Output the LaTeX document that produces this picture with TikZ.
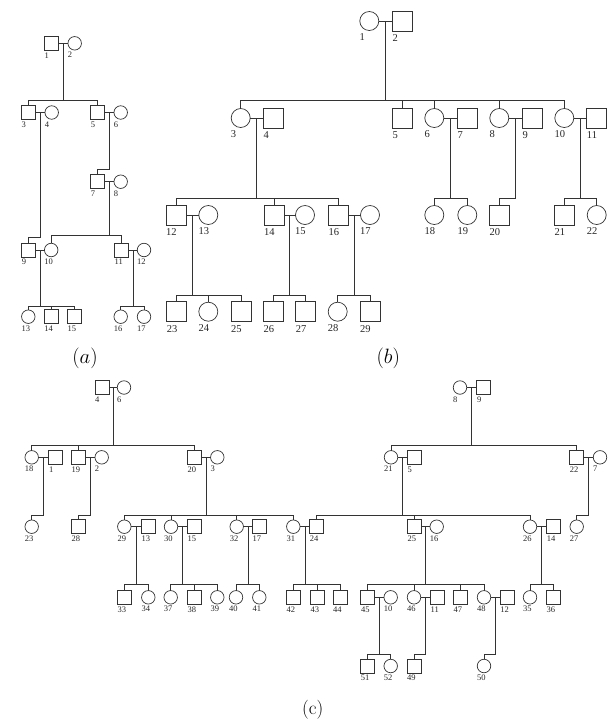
\documentclass[tikz,border=0pt]{standalone}
\usepackage{fontspec}
\newfontfamily\tms{Liberation Serif}
\usetikzlibrary{calc}
\tikzset{
  ln/.style={draw=black!80, line width=0.7pt},
  shp/.style={draw=black!80, line width=0.7pt, inner sep=0pt, outer sep=0pt},
  sqa/.style={shp, rectangle, minimum size=14pt},
  cia/.style={shp, circle, minimum size=13.5pt},
  sqb/.style={shp, rectangle, minimum size=20pt},
  cib/.style={shp, circle, minimum size=19pt},
  labtxa/.style={font=\tms\fontsize{8.5}{9}\selectfont, anchor=north west, inner sep=0pt, xshift=-7pt, yshift=-2pt, text=black!85},
  labtxb/.style={font=\tms\fontsize{10.5}{11}\selectfont, anchor=north west, inner sep=0pt, xshift=-10pt, yshift=-3.3pt, text=black!85},
  la/.style={label={[labtxa]below:#1}},
  lb/.style={label={[labtxb]below:#1}},
  paneltitle/.style={font=\fontsize{20}{24}\selectfont, inner sep=0pt},
}
\newcommand\cpl[3]{\draw[ln] (#1) -- (#2); \coordinate (#3) at ($(#1.east)!.5!(#2.west)$);}
\begin{document}
\begin{tikzpicture}[x=1pt,y=-1pt]
\useasboundingbox (0,0) rectangle (608,724);
% ---------------- panel (a)
\node[sqa,la=1] (a1) at (51.5,43.3) {};
\node[cia,la=2] (a2) at (74.7,43.3) {};
\node[sqa,la=3] (a3) at (28.5,112.5) {};
\node[cia,la=4] (a4) at (51.7,112.5) {};
\node[sqa,la=5] (a5) at (97.7,112.5) {};
\node[cia,la=6] (a6) at (120.7,112.5) {};
\node[sqa,la=7] (a7) at (97.7,181.7) {};
\node[cia,la=8] (a8) at (120.7,181.7) {};
\node[sqa,la=9] (a9) at (28.7,250) {};
\node[cia,la=10] (a10) at (51.2,250) {};
\node[sqa,la=11] (a11) at (121.5,250) {};
\node[cia,la=12] (a12) at (144,250) {};
\node[cia,la=13] (a13) at (28.3,316.7) {};
\node[sqa,la=14] (a14) at (51.3,316.7) {};
\node[sqa,la=15] (a15) at (74.5,316.7) {};
\node[cia,la=16] (a16) at (120.7,316.7) {};
\node[cia,la=17] (a17) at (144,316.7) {};
\coordinate (ya1) at (0,100);
\coordinate (ya2) at (0,237.3);
\coordinate (ya3) at (0,169.3);
\coordinate (ya4) at (0,235);
\coordinate (ya5) at (0,306);
\cpl{a1}{a2}{ma1}
\cpl{a3}{a4}{ma2}
\cpl{a5}{a6}{ma3}
\cpl{a7}{a8}{ma4}
\cpl{a9}{a10}{ma5}
\cpl{a11}{a12}{ma6}
\draw[ln] (ma1) -- (ma1 |- ya1);
\draw[ln] (a3.north) |- (a5.north |- ya1) -- (a5.north);
\draw[ln] (ma2) |- (a9.north |- ya2) -- (a9.north);
\draw[ln] (ma3) |- (a7.north |- ya3) -- (a7.north);
\draw[ln] (ma4) -- (ma4 |- ya4);
\draw[ln] (a10.north) |- (a11.north |- ya4) -- (a11.north);
\draw[ln] (ma5) -- (ma5 |- ya5);
\draw[ln] (a13.north) |- (a15.north |- ya5) -- (a15.north);
\draw[ln] (a14.north) -- (a14.north |- ya5);
\draw[ln] (ma6) -- (ma6 |- ya5);
\draw[ln] (a16.north) |- (a17.north |- ya5) -- (a17.north);
\node[paneltitle] (ta) at (85,358) {$(a)$};
% ---------------- panel (b)
\node[cib,lb=1] (b1) at (369.3,21) {};
\node[sqb,lb=2] (b2) at (402.3,21) {};
\node[cib,lb=3] (b3) at (240.7,118) {};
\node[sqb,lb=4] (b4) at (273.3,118) {};
\node[sqb,lb=5] (b5) at (402.3,118) {};
\node[cib,lb=6] (b6) at (434.3,118) {};
\node[sqb,lb=7] (b7) at (467.3,118) {};
\node[cib,lb=8] (b8) at (499.3,118) {};
\node[sqb,lb=9] (b9) at (532.3,118) {};
\node[cib,lb=10] (b10) at (564.3,118) {};
\node[sqb,lb=11] (b11) at (596.7,118) {};
\node[sqb,lb=12] (b12) at (176,215) {};
\node[cib,lb=13] (b13) at (208.3,215) {};
\node[sqb,lb=14] (b14) at (274,215) {};
\node[cib,lb=15] (b15) at (305,215) {};
\node[sqb,lb=16] (b16) at (338.3,215) {};
\node[cib,lb=17] (b17) at (370,215) {};
\node[cib,lb=18] (b18) at (434.3,215) {};
\node[cib,lb=19] (b19) at (467.3,215) {};
\node[sqb,lb=20] (b20) at (499.3,215) {};
\node[sqb,lb=21] (b21) at (564.3,215) {};
\node[cib,lb=22] (b22) at (596.7,215) {};
\node[sqb,lb=23] (b23) at (176.7,311.7) {};
\node[cib,lb=24] (b24) at (208.3,311.7) {};
\node[sqb,lb=25] (b25) at (241,311.7) {};
\node[sqb,lb=26] (b26) at (273.3,311.7) {};
\node[sqb,lb=27] (b27) at (305.7,311.7) {};
\node[cib,lb=28] (b28) at (337.7,311.7) {};
\node[sqb,lb=29] (b29) at (370,311.7) {};
\coordinate (yb1) at (0,100.7);
\coordinate (yb2) at (0,198.3);
\coordinate (yb3) at (0,295);
\cpl{b1}{b2}{mb1}
\cpl{b3}{b4}{mb2}
\cpl{b6}{b7}{mb3}
\cpl{b8}{b9}{mb4}
\cpl{b10}{b11}{mb5}
\cpl{b12}{b13}{mb6}
\cpl{b14}{b15}{mb7}
\cpl{b16}{b17}{mb8}
\draw[ln] (mb1) -- (mb1 |- yb1);
\draw[ln] (b3.north) |- (b10.north |- yb1) -- (b10.north);
\draw[ln] (b5.north) -- (b5.north |- yb1);
\draw[ln] (b6.north) -- (b6.north |- yb1);
\draw[ln] (b8.north) -- (b8.north |- yb1);
\draw[ln] (mb2) -- (mb2 |- yb2);
\draw[ln] (b12.north) |- (b16.north |- yb2) -- (b16.north);
\draw[ln] (b14.north) -- (b14.north |- yb2);
\draw[ln] (mb3) -- (mb3 |- yb2);
\draw[ln] (b18.north) |- (b19.north |- yb2) -- (b19.north);
\draw[ln] (mb4) |- (b20.north |- yb2) -- (b20.north);
\draw[ln] (mb5) -- (mb5 |- yb2);
\draw[ln] (b21.north) |- (b22.north |- yb2) -- (b22.north);
\draw[ln] (mb6) -- (mb6 |- yb3);
\draw[ln] (b23.north) |- (b25.north |- yb3) -- (b25.north);
\draw[ln] (b24.north) -- (b24.north |- yb3);
\draw[ln] (mb7) -- (mb7 |- yb3);
\draw[ln] (b26.north) |- (b27.north |- yb3) -- (b27.north);
\draw[ln] (mb8) -- (mb8 |- yb3);
\draw[ln] (b28.north) |- (b29.north |- yb3) -- (b29.north);
\node[paneltitle] (tb) at (388.3,358) {$(b)$};
% ---------------- panel (c)
\node[sqa,la=4] (c4) at (102,387.5) {};
\node[cia,la=6] (c6) at (124,387.5) {};
\node[cia,la=8] (c8) at (460,387.5) {};
\node[sqa,la=9] (c9) at (483.8,387.5) {};
\node[cia,la=18] (c18) at (31.7,457.3) {};
\node[sqa,la=1] (c1) at (55.8,457.3) {};
\node[sqa,la=19] (c19) at (78.3,457.3) {};
\node[cia,la=2] (c2) at (101.7,457.3) {};
\node[sqa,la=20] (c20) at (194.5,457.3) {};
\node[cia,la=3] (c3) at (217.3,457.3) {};
\node[cia,la=21] (c21) at (391,457.3) {};
\node[sqa,la=5] (c5) at (414.3,457.3) {};
\node[sqa,la=22] (c22) at (576.7,457.3) {};
\node[cia,la=7] (c7) at (600,457.3) {};
\node[cia,la=23] (c23) at (31.7,526.7) {};
\node[sqa,la=28] (c28) at (78.3,526.7) {};
\node[cia,la=29] (c29) at (124.3,526.7) {};
\node[sqa,la=13] (c13) at (148.3,526.7) {};
\node[cia,la=30] (c30) at (171,526.7) {};
\node[sqa,la=15] (c15) at (194.5,526.7) {};
\node[cia,la=32] (c32) at (236.7,526.7) {};
\node[sqa,la=17] (c17) at (259.5,526.7) {};
\node[cia,la=31] (c31) at (293.3,526.7) {};
\node[sqa,la=24] (c24) at (316.7,526.7) {};
\node[sqa,la=25] (c25) at (414.3,526.7) {};
\node[cia,la=16] (c16) at (436.7,526.7) {};
\node[cia,la=26] (c26) at (530,526.7) {};
\node[sqa,la=14] (c14) at (553.7,526.7) {};
\node[cia,la=27] (c27) at (576.7,526.7) {};
\node[sqa,la=33] (c33) at (124.5,597.3) {};
\node[cia,la=34] (c34) at (148.3,597.3) {};
\node[cia,la=37] (c37) at (170.7,597.3) {};
\node[sqa,la=38] (c38) at (194.3,597.3) {};
\node[cia,la=39] (c39) at (217.3,597.3) {};
\node[cia,la=40] (c40) at (236,597.3) {};
\node[cia,la=41] (c41) at (259.3,597.3) {};
\node[sqa,la=42] (c42) at (293.3,597.3) {};
\node[sqa,la=43] (c43) at (317.3,597.3) {};
\node[sqa,la=44] (c44) at (340,597.3) {};
\node[sqa,la=45] (c45) at (367.8,597.3) {};
\node[cia,la=10] (c10) at (390.7,597.3) {};
\node[cia,la=46] (c46) at (414,597.3) {};
\node[sqa,la=11] (c11) at (437.5,597.3) {};
\node[sqa,la=47] (c47) at (460.5,597.3) {};
\node[cia,la=48] (c48) at (484,597.3) {};
\node[sqa,la=12] (c12) at (507.2,597.3) {};
\node[cia,la=35] (c35) at (530,597.3) {};
\node[sqa,la=36] (c36) at (553.3,597.3) {};
\node[sqa,la=51] (c51) at (367.7,666) {};
\node[cia,la=52] (c52) at (390.7,666) {};
\node[sqa,la=49] (c49) at (414,666) {};
\node[cia,la=50] (c50) at (484,666) {};
\coordinate (yc1) at (0,445);
\coordinate (yc2) at (0,515);
\coordinate (yc3) at (0,584.3);
\coordinate (yc4) at (0,654.3);
\cpl{c4}{c6}{mc1}
\cpl{c8}{c9}{mc2}
\cpl{c18}{c1}{mc3}
\cpl{c19}{c2}{mc4}
\cpl{c20}{c3}{mc5}
\cpl{c21}{c5}{mc6}
\cpl{c22}{c7}{mc7}
\cpl{c29}{c13}{mc8}
\cpl{c30}{c15}{mc9}
\cpl{c32}{c17}{mc10}
\cpl{c31}{c24}{mc11}
\cpl{c25}{c16}{mc12}
\cpl{c26}{c14}{mc13}
\cpl{c45}{c10}{mc14}
\cpl{c46}{c11}{mc15}
\cpl{c48}{c12}{mc16}
\draw[ln] (mc1) -- (mc1 |- yc1);
\draw[ln] (c18.north) |- (c20.north |- yc1) -- (c20.north);
\draw[ln] (c19.north) -- (c19.north |- yc1);
\draw[ln] (mc2) -- (mc2 |- yc1);
\draw[ln] (c21.north) |- (c22.north |- yc1) -- (c22.north);
\draw[ln] (mc3) |- (c23.north |- yc2) -- (c23.north);
\draw[ln] (mc4) |- (c28.north |- yc2) -- (c28.north);
\draw[ln] (mc5) -- (mc5 |- yc2);
\draw[ln] (c29.north) |- (c31.north |- yc2) -- (c31.north);
\draw[ln] (c30.north) -- (c30.north |- yc2);
\draw[ln] (c32.north) -- (c32.north |- yc2);
\draw[ln] (mc6) -- (mc6 |- yc2);
\draw[ln] (c24.north) |- (c26.north |- yc2) -- (c26.north);
\draw[ln] (c25.north) -- (c25.north |- yc2);
\draw[ln] (mc7) |- (c27.north |- yc2) -- (c27.north);
\draw[ln] (mc8) -- (mc8 |- yc3);
\draw[ln] (c33.north) |- (c34.north |- yc3) -- (c34.north);
\draw[ln] (mc9) -- (mc9 |- yc3);
\draw[ln] (c37.north) |- (c39.north |- yc3) -- (c39.north);
\draw[ln] (c38.north) -- (c38.north |- yc3);
\draw[ln] (mc10) -- (mc10 |- yc3);
\draw[ln] (c40.north) |- (c41.north |- yc3) -- (c41.north);
\draw[ln] (mc11) -- (mc11 |- yc3);
\draw[ln] (c42.north) |- (c44.north |- yc3) -- (c44.north);
\draw[ln] (c43.north) -- (c43.north |- yc3);
\draw[ln] (mc12) -- (mc12 |- yc3);
\draw[ln] (c45.north) |- (c48.north |- yc3) -- (c48.north);
\draw[ln] (c46.north) -- (c46.north |- yc3);
\draw[ln] (c47.north) -- (c47.north |- yc3);
\draw[ln] (mc13) -- (mc13 |- yc3);
\draw[ln] (c35.north) |- (c36.north |- yc3) -- (c36.north);
\draw[ln] (mc14) -- (mc14 |- yc4);
\draw[ln] (c51.north) |- (c52.north |- yc4) -- (c52.north);
\draw[ln] (mc15) |- (c49.north |- yc4) -- (c49.north);
\draw[ln] (mc16) |- (c50.north |- yc4) -- (c50.north);
\node[paneltitle, font=\fontsize{19}{23}\selectfont] (tc) at (312.7,710) {(c)};
\end{tikzpicture}
\end{document}
